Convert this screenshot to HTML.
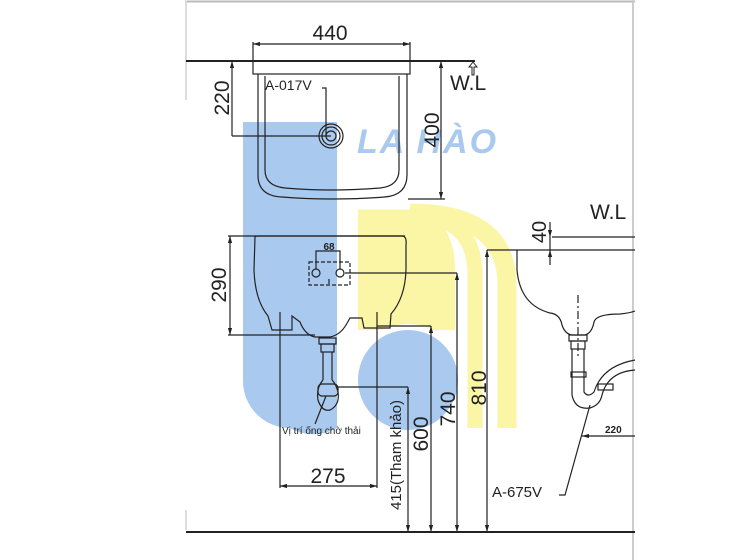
<!DOCTYPE html>
<html><head><meta charset="utf-8"><style>
html,body{margin:0;padding:0;background:#fff;}
svg{display:block;font-family:"Liberation Sans","DejaVu Sans",sans-serif;}
</style></head><body>
<svg width="750" height="560" viewBox="0 0 750 560" xmlns="http://www.w3.org/2000/svg">
<defs>
<marker id="a" viewBox="0 0 10 10" refX="10" refY="5" markerWidth="6" markerHeight="6" orient="auto-start-reverse"><path d="M0,2 L10,5 L0,8 z" fill="#222"/></marker>
</defs>
<!-- watermark -->
<path d="M243 122 H337 V428 A47 47 0 0 1 290 428 H290 A47 47 0 0 1 243 381 Z" fill="#a9c9ef"/>
<path d="M358 210 H400 Q455 210 455 270 V330 H358 Z" fill="#fbf5a6"/>
<path d="M358 217 H415 Q475 217 475 275 V428" fill="none" stroke="#fbf5a6" stroke-width="15"/>
<path d="M410 213 Q507 213 507 285 V428" fill="none" stroke="#fbf5a6" stroke-width="19"/>
<circle cx="408" cy="380" r="56" fill="#fff"/>
<circle cx="408" cy="380" r="50" fill="#a9c9ef"/>
<text x="357" y="153" font-size="34" font-style="italic" font-weight="bold" fill="#a9c9ef" letter-spacing="2">LA HÀO</text>
<!-- frame -->
<line x1="186" y1="1.5" x2="635" y2="1.5" stroke="#bbb" stroke-width="2"/>
<line x1="186" y1="0" x2="186" y2="100" stroke="#ddd" stroke-width="2"/>
<line x1="186" y1="510" x2="186" y2="530" stroke="#ddd" stroke-width="2"/>
<line x1="633" y1="0" x2="633" y2="560" stroke="#ccc" stroke-width="2"/>
<g stroke="#222" fill="none" stroke-width="1.2">
<!-- top view -->
<line x1="186" y1="61" x2="475" y2="61" stroke-width="2"/>
<rect x="253" y="61" width="157" height="13"/>
<line x1="253" y1="42" x2="253" y2="61"/><line x1="410" y1="42" x2="410" y2="61"/>
<line x1="253" y1="44" x2="410" y2="44" marker-start="url(#a)" marker-end="url(#a)"/>
<path d="M258 74 V175 Q258 196 282 197 Q330 201 385 197 Q407 195 407 175 V74"/>
<path d="M265 76 V170 Q265 186 285 188 Q330 192 380 188 Q399 186 399 170 V76"/>
<circle cx="331" cy="136" r="12"/><circle cx="331" cy="136" r="9"/><circle cx="331" cy="136" r="5"/>
<line x1="232" y1="61" x2="232" y2="136" marker-start="url(#a)"/>
<line x1="232" y1="136" x2="331" y2="136"/>
<polyline points="322,88 326,88 326,136"/>
<line x1="441" y1="61" x2="441" y2="199" marker-start="url(#a)" marker-end="url(#a)"/>
<line x1="408" y1="199" x2="445" y2="199"/>
<path d="M472 75 V67 H469 L473 62 L477 67 H474 V75 Z" stroke-width="1"/>
<!-- front view -->
<line x1="228" y1="236" x2="405" y2="236"/>
<line x1="228" y1="335" x2="315" y2="335"/>
<line x1="230" y1="236" x2="230" y2="335" marker-start="url(#a)" marker-end="url(#a)"/>
<path d="M255 237 Q254 236 258 236 H402 Q407 236 406 245 V270 Q405 298 391 314 L390 328 H364 L362 318 H350 L346 325 Q340 335 330 337 H315 Q305 335 300 322 L292 316 V330 H272 L268 316 Q255 300 254 270 Z"/>
<rect x="309" y="262" width="41" height="23" stroke-dasharray="4,2"/>
<circle cx="316" cy="273" r="4"/><circle cx="340" cy="273" r="4"/>
<polyline points="316,269 316,251 340,251 340,269"/>
<line x1="329" y1="279" x2="329" y2="284"/>
<line x1="345" y1="273" x2="457" y2="273"/>
<line x1="457" y1="273" x2="457" y2="532" marker-start="url(#a)" marker-end="url(#a)"/>
<line x1="377" y1="326" x2="431" y2="326"/>
<line x1="431" y1="326" x2="431" y2="532" marker-start="url(#a)" marker-end="url(#a)"/>
<line x1="336" y1="387" x2="408" y2="387"/>
<line x1="408" y1="387" x2="408" y2="532" marker-start="url(#a)" marker-end="url(#a)"/>
<line x1="487" y1="250" x2="635" y2="250"/>
<line x1="487" y1="250" x2="487" y2="532" marker-start="url(#a)" marker-end="url(#a)"/>
<line x1="280" y1="312" x2="280" y2="488"/><line x1="377" y1="312" x2="377" y2="488"/>
<line x1="280" y1="486" x2="377" y2="486" marker-start="url(#a)" marker-end="url(#a)"/>
<rect x="319" y="338" width="17" height="6"/><rect x="321" y="344" width="13" height="8"/>
<path d="M323 352 V380 M332 352 V380"/>
<path d="M323 380 Q316 388 318 400 Q322 412 330 410 Q340 405 338 392 Q336 384 332 380"/>
<rect x="318" y="384" width="20" height="12" rx="4"/>
<line x1="315" y1="424" x2="326" y2="396"/>
<line x1="186" y1="532" x2="635" y2="532" stroke-width="2"/>
<!-- right view -->
<line x1="552" y1="237" x2="635" y2="237"/>
<line x1="550" y1="222" x2="550" y2="237" marker-end="url(#a)"/>
<line x1="550" y1="265" x2="550" y2="250" marker-end="url(#a)"/>
<line x1="550" y1="237" x2="550" y2="250"/>
<path d="M517 250 V270 Q520 305 550 313 Q560 314 562 325 Q565 334 572 335 H585 Q592 333 594 322 Q596 314 620 314 Q630 313 635 311"/>
<line x1="578" y1="295" x2="578" y2="358" stroke-dasharray="8,3,2,3"/>
<rect x="569" y="335" width="18" height="6"/><rect x="571" y="341" width="14" height="8"/>
<path d="M572 349 V395 Q575 410 590 408 Q600 405 602 395 Q608 372 635 370 M584 349 V392 Q588 398 594 392 Q602 366 635 360"/>
<rect x="571" y="372" width="15" height="5"/><rect x="598" y="384" width="15" height="6"/>
<line x1="635" y1="436" x2="582" y2="436" marker-end="url(#a)"/>
<polyline points="559,495 565,495 590,405"/>
</g>
<g fill="#222">
<text x="330" y="40" font-size="21" text-anchor="middle">440</text>
<text transform="translate(229,98) rotate(-90)" font-size="21" text-anchor="middle">220</text>
<text x="265" y="90" font-size="14">A-017V</text>
<text transform="translate(439,130) rotate(-90)" font-size="21" text-anchor="middle">400</text>
<text x="450" y="90" font-size="21">W.L</text>
<text x="329" y="250" font-size="10" font-weight="bold" text-anchor="middle">68</text>
<text transform="translate(226,285) rotate(-90)" font-size="21" text-anchor="middle">290</text>
<text x="328" y="483" font-size="21" text-anchor="middle">275</text>
<text x="282" y="434" font-size="10">Vị trí ống chờ thải</text>
<text transform="translate(401,455) rotate(-90)" font-size="15" text-anchor="middle">415(Tham khảo)</text>
<text transform="translate(428,434) rotate(-90)" font-size="21" text-anchor="middle">600</text>
<text transform="translate(455,409) rotate(-90)" font-size="21" text-anchor="middle">740</text>
<text transform="translate(486,388) rotate(-90)" font-size="21" text-anchor="middle">810</text>
<text transform="translate(546,232) rotate(-90)" font-size="20" text-anchor="middle">40</text>
<text x="590" y="219" font-size="21">W.L</text>
<text x="605" y="433" font-size="10" font-weight="bold">220</text>
<text x="492" y="497" font-size="15">A-675V</text>
</g>
</svg>
</body></html>
